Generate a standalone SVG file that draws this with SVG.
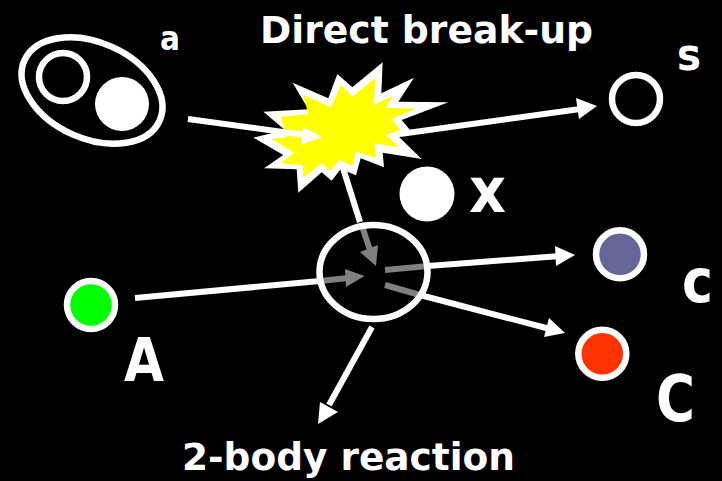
<svg xmlns="http://www.w3.org/2000/svg" width="722" height="481" viewBox="0 0 722 481">
<style>
text{font-family:"DejaVu Sans","Liberation Sans",sans-serif;font-weight:bold;fill:#fff}
.t{font-size:37px}
.l{stroke:#fff;stroke-width:6;fill:none}
.g{stroke:#808080;stroke-width:6;fill:none}
.n{stroke:#fff;stroke-width:6.5}
.hw{fill:#fff}
.hg{fill:#808080}
</style>
<rect width="722" height="481" fill="#000"/>
<g id="connectors-back">
<line class="l" x1="400" y1="134" x2="580" y2="109"/><polygon class="hw" points="597,106 576,98 579,119"/>
<line class="l" x1="342" y1="165" x2="360" y2="222"/>
</g>
<g id="burst" transform="translate(240 50) scale(.33333)">
<polygon fill="#fff" points="428,37 424,130 522,83 475,155 625,157 485,210 510,240 478,262 545,327 428,308 432,352 362,325 348,376 302,357 275,392 245,367 175,428 170,358 72,355 130,315 40,263 135,240 70,185 205,178 158,98 265,145 292,72 337,112"/>
<polygon fill="#ff0" points="405,85 402,165 458,138 437,173 527,176 455,207 480,240 437,255 478,292 403,280 408,323 348,305 337,347 298,330 270,362 245,340 190,383 188,345 122,340 162,308 95,267 140,262 122,200 205,193 190,135 273,172 303,105 337,140"/>
</g>
<g id="connectors">
<line class="l" x1="188" y1="119" x2="305" y2="135"/><polygon class="hw" points="322,137 303,127 301,145"/>
<line class="l" x1="135" y1="298" x2="320" y2="281"/>
<line class="g" x1="320" y1="281" x2="348" y2="278"/><polygon class="hg" points="364.5,276 345,269 346,287"/>
<line class="g" x1="361" y1="223" x2="370" y2="250"/><polygon class="hg" points="376,266 360,252 378,245"/>
<line class="g" x1="385" y1="270" x2="428" y2="266"/>
<line class="l" x1="428" y1="266" x2="560" y2="256"/><polygon class="hw" points="575,255 555,246 556,266"/>
<line class="g" x1="385" y1="285" x2="420" y2="295"/>
<line class="l" x1="420" y1="295" x2="550" y2="329"/><polygon class="hw" points="565,333 549,318 544,337"/>
<line class="l" x1="372" y1="327" x2="329" y2="405"/><polygon class="hw" points="318,424 320,402 338,412"/>
</g>
<g id="collision"><ellipse class="n" cx="373.5" cy="272" rx="54" ry="47" fill="none"/></g>
<g id="node-a"><ellipse class="n" cx="92" cy="90.5" rx="74" ry="48" transform="rotate(24 92 90.5)" fill="none"/><circle class="n" cx="63" cy="77" r="24" fill="none"/><circle cx="122" cy="104" r="27" fill="#fff"/></g>
<g id="node-s"><circle class="n" cx="636" cy="99" r="24" fill="none"/></g>
<g id="node-x"><circle cx="427" cy="194" r="27.5" fill="#fff"/></g>
<g id="node-c"><circle class="n" cx="620" cy="254.3" r="24" fill="#666699"/></g>
<g id="node-C"><circle class="n" cx="602.3" cy="353.8" r="24" fill="#ff3300"/></g>
<g id="node-A"><circle class="n" cx="91" cy="305" r="24" fill="#00ff00"/></g>
<g id="labels">
<text class="t" x="260" y="43" textLength="333" lengthAdjust="spacingAndGlyphs">Direct break-up</text>
<text class="t" x="182" y="470" textLength="333" lengthAdjust="spacingAndGlyphs">2-body reaction</text>
<text x="160" y="50" font-size="33" textLength="20" lengthAdjust="spacingAndGlyphs">a</text>
<text x="677" y="69.500" font-size="44" textLength="24" lengthAdjust="spacingAndGlyphs">s</text>
<text x="469" y="212" font-size="62" textLength="37" lengthAdjust="spacingAndGlyphs">x</text>
<text x="682" y="302" font-size="60" textLength="31" lengthAdjust="spacingAndGlyphs">c</text>
<text x="124" y="381" font-size="60" textLength="40" lengthAdjust="spacingAndGlyphs">A</text>
<text x="656" y="421" font-size="64" textLength="39" lengthAdjust="spacingAndGlyphs">C</text>
</g>
</svg>
